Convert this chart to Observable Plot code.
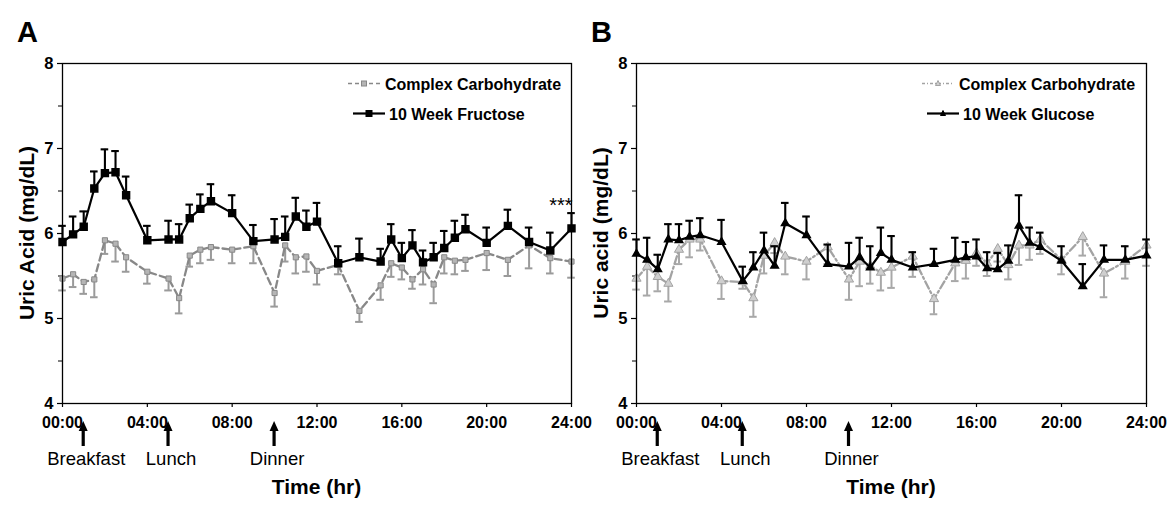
<!DOCTYPE html>
<html><head><meta charset="utf-8">
<script src="https://cdn.jsdelivr.net/npm/d3@7"></script>
<script src="https://cdn.jsdelivr.net/npm/@observablehq/plot@0.6"></script>
<style>
body{margin:0;background:#fff;}
#wrap{position:relative;width:1174px;height:506px;overflow:hidden;font-family:"Liberation Sans",Arial,sans-serif;}
#wrap svg{position:absolute;top:0;overflow:visible;}
</style>
</head><body><div id="wrap"></div>
<script>
// ---- data ----
const hours = [0,0.5,1,1.5,2,2.5,3,4,5,5.5,6,6.5,7,8,9,10,10.5,11,11.5,12,13,14,15,15.5,16,16.5,17,17.5,18,18.5,19,20,21,22,23,24];

const fructose    = [5.90,5.99,6.08,6.53,6.71,6.72,6.45,5.92,5.93,5.93,6.18,6.29,6.38,6.24,5.91,5.93,5.96,6.20,6.08,6.14,5.65,5.72,5.67,5.93,5.71,5.86,5.66,5.72,5.83,5.95,6.05,5.89,6.09,5.90,5.80,6.06];
const fructoseErr = [0.19,0.21,0.18,0.20,0.28,0.25,0.22,0.17,0.22,0.18,0.16,0.17,0.20,0.21,0.19,0.24,0.24,0.22,0.19,0.22,0.20,0.22,0.15,0.18,0.18,0.18,0.14,0.17,0.20,0.20,0.17,0.18,0.19,0.17,0.21,0.18];
const complexA    = [5.47,5.52,5.43,5.46,5.92,5.88,5.72,5.55,5.47,5.24,5.74,5.81,5.84,5.81,5.85,5.30,5.86,5.72,5.73,5.56,5.63,5.09,5.39,5.65,5.60,5.46,5.58,5.40,5.72,5.68,5.69,5.77,5.69,5.86,5.71,5.67];
const complexAErr = [0.14,0.15,0.14,0.21,0.16,0.21,0.17,0.14,0.14,0.18,0.13,0.16,0.15,0.16,0.20,0.16,0.19,0.19,0.18,0.16,0.11,0.13,0.17,0.16,0.14,0.11,0.18,0.22,0.19,0.16,0.13,0.20,0.19,0.27,0.18,0.19];

const glucose     = [5.76,5.69,5.58,5.93,5.92,5.96,5.98,5.90,5.44,5.60,5.80,5.62,6.12,5.98,5.64,5.61,5.72,5.60,5.77,5.69,5.60,5.64,5.69,5.72,5.73,5.59,5.58,5.68,6.09,5.89,5.84,5.68,5.38,5.69,5.69,5.74];
const glucoseErr  = [0.17,0.26,0.17,0.18,0.19,0.19,0.20,0.26,0.17,0.18,0.21,0.23,0.24,0.22,0.23,0.28,0.23,0.25,0.30,0.28,0.18,0.18,0.26,0.18,0.20,0.19,0.19,0.18,0.36,0.18,0.17,0.17,0.26,0.17,0.16,0.19];
const complexB    = [5.47,5.61,5.49,5.41,5.81,5.93,5.93,5.44,5.43,5.24,5.74,5.89,5.73,5.67,5.84,5.46,5.67,5.62,5.54,5.60,5.73,5.23,5.65,5.68,5.77,5.65,5.82,5.63,5.86,5.86,5.93,5.69,5.96,5.53,5.67,5.86];
const complexBErr = [0.13,0.34,0.17,0.21,0.17,0.21,0.13,0.21,0.08,0.22,0.21,0.12,0.21,0.21,0.20,0.24,0.29,0.21,0.21,0.24,0.24,0.18,0.21,0.21,0.15,0.15,0.15,0.17,0.23,0.17,0.17,0.17,0.22,0.28,0.20,0.24];

const xTicks = [0,4,8,12,16,20,24];
const xTickLabels = ["00:00","04:00","08:00","12:00","16:00","20:00","24:00"];
const yTicks = [4,5,6,7,8];
const yTickLabels = ["4","5","6","7","8"];
const yMinorTicks = [4.5,5.5,6.5,7.5];
const meals = ["Breakfast","Lunch","Dinner"];
const mealHours = [1,5,10];
const sigMark = {hour: 23.5, value: 6.33, text: "***"};

const table = (vals, errs) => hours.map((h,i) => ({hour:h, value:vals[i], err:errs[i]}));

const FONT = '"Liberation Sans", Arial, sans-serif';

function panel(opts) {
  const {left, width, marginRight, letter, yTitle, grey, black, greyName, blackName, symbol, greyStyle, sig} = opts;
  const errMarks = (data, dir, color, w) => [
    Plot.ruleX(data, {x:"hour", y1:"value", y2: d => d.value + dir*d.err, stroke:color, strokeWidth:w}),
    Plot.ruleY(data, {y: d => d.value + dir*d.err, x1:"hour", x2:"hour", insetLeft:-3.8, insetRight:-3.8, stroke:color, strokeWidth:w})
  ];
  const marks = [
    Plot.axisY({ticks:yMinorTicks, tickFormat:()=>"", tickSize:4, label:null, stroke:"black", strokeWidth:1}),
    Plot.axisY({ticks:yTicks, tickFormat:(d)=>yTickLabels[yTicks.indexOf(d)], tickSize:5, tickPadding:4, fontSize:16.5, fontWeight:"bold", label:null, stroke:"black", strokeWidth:1.2}),
    Plot.axisX({ticks:xTicks, tickFormat:(d)=>xTickLabels[xTicks.indexOf(d)], tickSize:4, tickPadding:9, fontSize:16, fontWeight:"bold", label:null, stroke:"black", strokeWidth:1.2}),
    ...errMarks(grey, -1, greyStyle.err, 2),
    Plot.line(grey, {x:"hour", y:"value", stroke:greyStyle.line, strokeWidth:2.3, strokeDasharray:greyStyle.dash}),
    Plot.dot(grey, {x:"hour", y:"value", symbol, r:greyStyle.r, fill:greyStyle.fill, stroke:greyStyle.line, strokeWidth:1}),
    ...errMarks(black, 1, "black", 2.1),
    Plot.line(black, {x:"hour", y:"value", stroke:"black", strokeWidth:2.2}),
    Plot.dot(black, {x:"hour", y:"value", symbol, r: symbol === "square" ? 3.9 : 2.8, fill:"black", stroke:"black"}),
    Plot.frame({stroke:"black", strokeWidth:1.3})
  ];
  if (sig) marks.push(Plot.text([sig], {x:"hour", y:"value", text:"text", fontSize:20, fill:"black", fontFamily:FONT}));
  const svg = Plot.plot({
    width, height:506, marginLeft:62, marginRight, marginTop:63, marginBottom:103,
    x:{domain:[0,24], label:null}, y:{domain:[4,8], label:null},
    style:{fontFamily:FONT, background:"transparent", color:"black", overflow:"visible"},
    marks
  });
  svg.style.left = left + "px";
  const xs = svg.scale("x"), ys = svg.scale("y");
  const g = d3.select(svg).append("g").attr("font-family", FONT).attr("fill", "black").attr("text-anchor","start");
  // panel letter
  g.append("text").attr("x", 17).attr("y", 42).attr("text-anchor","start").attr("font-size", 29).attr("font-weight", "bold").text(letter);
  // y title
  g.append("text").attr("transform", `translate(34,${(ys.apply(4)+ys.apply(8))/2}) rotate(-90)`)
    .attr("text-anchor","middle").attr("font-size",21).attr("font-weight","bold").text(yTitle);
  // x title
  g.append("text").attr("x",(xs.apply(0)+xs.apply(24))/2).attr("y",494).attr("text-anchor","middle")
    .attr("font-size",21).attr("font-weight","bold").text("Time (hr)");
  // meal arrows
  meals.forEach((m,i) => {
    const x = xs.apply(mealHours[i]);
    g.append("line").attr("x1",x).attr("x2",x).attr("y1",446).attr("y2",429).attr("stroke","black").attr("stroke-width",3.2);
    g.append("path").attr("d",`M${x},421 L${x-4.5},431 L${x+4.5},431 Z`).attr("fill","black");
    g.append("text").attr("x",x+3).attr("y",465).attr("text-anchor","middle").attr("font-size",18.5).text(m);
  });
  // legend
  const lg = g.append("g");
  const row = (y, x1, x2, tx, name, style) => {
    lg.append("line").attr("x1",x1).attr("x2",x2).attr("y1",y).attr("y2",y)
      .attr("stroke",style.line).attr("stroke-width",style.w).attr("stroke-dasharray",style.dash||null);
    const cx = (x1+x2)/2;
    const s = style.size;
    if (symbol === "square") {
      lg.append("rect").attr("x",cx-s/2).attr("y",y-s/2).attr("width",s).attr("height",s).attr("fill",style.fill).attr("stroke",style.line).attr("stroke-width",1);
    } else {
      lg.append("path").attr("d",`M${cx},${y-s*0.6} L${cx-s/2},${y+s*0.4} L${cx+s/2},${y+s*0.4} Z`).attr("fill",style.fill).attr("stroke",style.line).attr("stroke-width",1);
    }
    lg.append("text").attr("x",tx).attr("y",y+6).attr("text-anchor","start").attr("font-size",16).attr("font-weight","bold").text(name);
  };
  row(83.5, 348, 380, 385, greyName, {line:greyStyle.line, w:1.6, dash:greyStyle.legendDash, fill:greyStyle.fill, size:5});
  row(113.5, 353, 385, 389, blackName, {line:"black", w:2.2, fill:"black", size: symbol === "square" ? 6 : 5});
  document.getElementById("wrap").appendChild(svg);
}

panel({
  left:0, width:587, marginRight:16, letter:"A", yTitle:"Uric Acid (mg/dL)",
  grey: table(complexA, complexAErr), black: table(fructose, fructoseErr),
  greyName:"Complex Carbohydrate", blackName:"10 Week Fructose", symbol:"square",
  greyStyle:{line:"#888888", err:"#9a9a9a", fill:"#b5b5b5", dash:"7,4", legendDash:"4,3", r:2.9},
  sig: sigMark
});
panel({
  left:574, width:600, marginRight:28, letter:"B", yTitle:"Uric acid (mg/dL)",
  grey: table(complexB, complexBErr), black: table(glucose, glucoseErr),
  greyName:"Complex Carbohydrate", blackName:"10 Week Glucose", symbol:"triangle",
  greyStyle:{line:"#a3a3a3", err:"#a8a8a8", fill:"#cfcfcf", dash:"8,3,2,3", legendDash:"3,2,1,2", r:3.4},
  sig: null
});
</script>
</body></html>
